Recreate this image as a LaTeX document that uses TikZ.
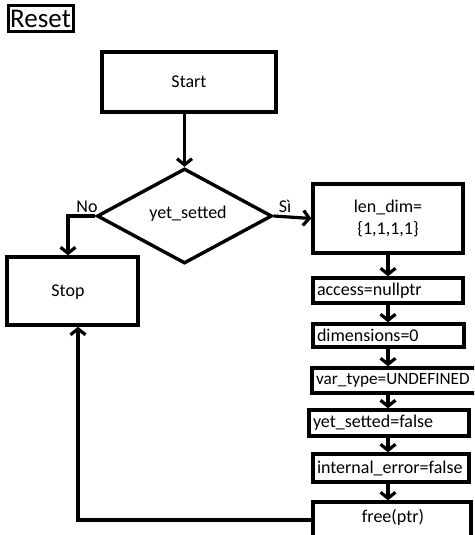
\documentclass[tikz,border=0pt]{standalone}
\usepackage{fontspec}
\setmainfont{Carlito}
\usetikzlibrary{shapes.geometric,arrows.meta}
\begin{document}
\begin{tikzpicture}[x=1pt,y=-1pt,
  every node/.style={font=\fontsize{18}{21}\selectfont},
  box/.style={draw, line width=3.4pt, rectangle, inner sep=0pt},
  lbox/.style={draw, line width=3.4pt, rectangle, inner ysep=0pt, inner xsep=4pt, align=left},
  arr/.style={line width=3.2pt, -{Straight Barb[length=6pt,width=15pt,line width=3.2pt]}},
  lab/.style={inner sep=0pt}]
\useasboundingbox (0,0) rectangle (474,535);
\clip (0,0) rectangle (474,535);
\node[draw, line width=3pt, inner sep=1pt, minimum width=65pt, minimum height=26pt,
      font=\fontsize{27}{28}\selectfont] (reset) at (40.5,19) {Reset};
\node[box, minimum width=174pt, minimum height=60pt] (start) at (189,82) {Start};
\node[draw, line width=3.4pt, diamond, inner sep=0pt, minimum width=175pt, minimum height=95pt] (dec) at (184.5,216) {};
\node[lab] (dectext) at (188,214) {yet\_setted};
\node[box, minimum width=131pt, minimum height=68pt] (stop) at (72.5,291) {};
\node[lab] (stoptext) at (68,292) {Stop};
\node[box, minimum width=150pt, minimum height=69pt, align=center] (len) at (388,218.5) {len\_dim=\\[1pt]\{1,1,1,1\}};
\node[lbox, text width=142pt, minimum height=25pt] (acc) at (388,290.5) {access=nullptr};
\node[lbox, text width=143pt, minimum height=23pt] (dims) at (388.5,335.5) {dimensions=0};
\node[lbox, text width=168pt, minimum height=25pt] (vt) at (400,380.5) {};
\node[lab, anchor=west, font=\fontsize{17.2}{20}\selectfont] (vttext) at (316,380.5) {var\_type=UNDEFINED};
\node[lbox, text width=152pt, minimum height=26pt] (ys) at (389,423) {yet\_setted=false};
\node[lbox, text width=148pt, minimum height=28pt] (ie) at (391,468) {internal\_error=false};
\node[box, minimum width=158pt, minimum height=36pt] (fr) at (392,520) {};
\node[lab] (frtext) at (393,517) {free(ptr)};
\node[lab] (no) at (87,207) {No};
\node[lab] (si) at (285,206) {Sì};
\coordinate (ax) at (388,0);
\draw[arr] (start.south -| dec.north) -- (dec.north);
\draw[arr] (dec.west) -| ([xshift=-4.5pt]stop.north);
\draw[arr] (dec.east) -- (len.west);
\draw[arr] (ax |- len.south) -- (ax |- acc.north);
\draw[arr] (ax |- acc.south) -- (ax |- dims.north);
\draw[arr] (ax |- dims.south) -- (ax |- vt.north);
\draw[arr] (ax |- vt.south) -- (ax |- ys.north);
\draw[arr] (ax |- ys.south) -- (ax |- ie.north);
\draw[arr] (ax |- ie.south) -- (ax |- fr.north);
\draw[arr] (fr.west) -| ([xshift=5.5pt]stop.south);
\end{tikzpicture}
\end{document}
